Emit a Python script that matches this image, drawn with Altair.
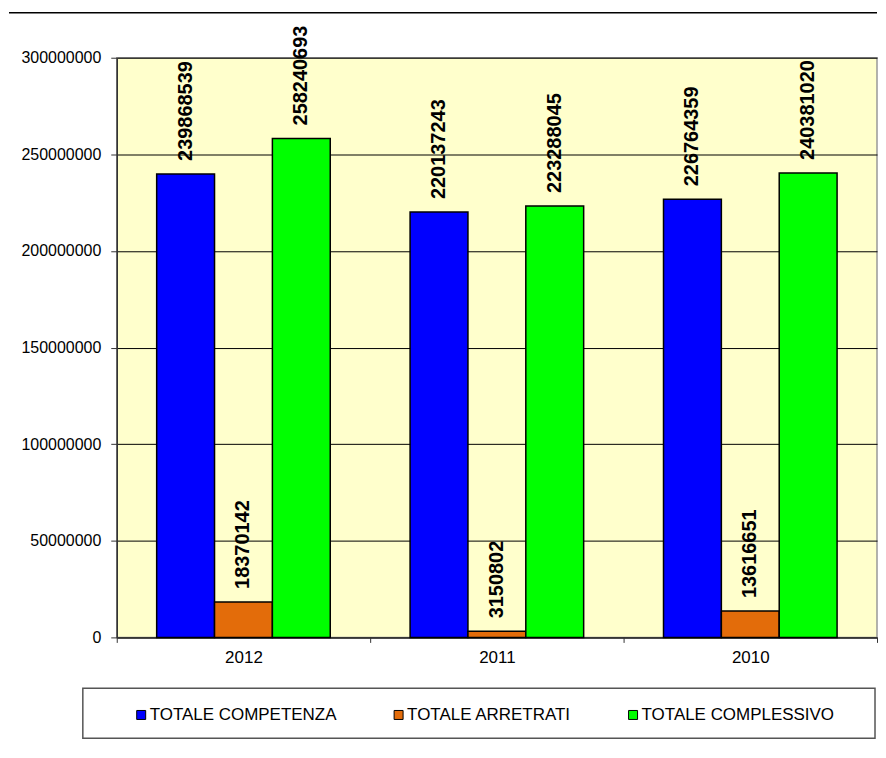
import altair as alt
import pandas as pd

years = ["2012", "2011", "2010"]
series = ["TOTALE COMPETENZA", "TOTALE ARRETRATI", "TOTALE COMPLESSIVO"]
competenza = [239868539, 220137243, 226764359]
arretrati = [18370142, 3150802, 13616651]
complessivo = [258240693, 223288045, 240381020]
colors = ["#0000FF", "#E36C0A", "#00FF00"]
y_ticks = [0, 50000000, 100000000, 150000000, 200000000, 250000000, 300000000]

rows = []
for i, yr in enumerate(years):
    for s, vals in zip(series, [competenza, arretrati, complessivo]):
        rows.append({"year": yr, "series": s, "value": vals[i]})
df = pd.DataFrame(rows)

FONT = "Liberation Sans"
W = 762

x = alt.X("year:N", sort=years,
          scale=alt.Scale(paddingInner=0, paddingOuter=0),
          axis=alt.Axis(title=None, labelAngle=0, tickBand="extent",
                        labelFont=FONT, labelFontSize=17, labelColor="black",
                        tickColor="#333333", tickSize=5, labelPadding=7,
                        domainColor="#333333", domainWidth=1.5))
xo = alt.XOffset("series:N", sort=series,
                 scale=alt.Scale(paddingOuter=0.69, paddingInner=0))
y = alt.Y("value:Q", scale=alt.Scale(domain=[0, 300000000], nice=False),
          axis=alt.Axis(title=None, values=y_ticks, format="d",
                        labelFont=FONT, labelFontSize=16, labelColor="black",
                        grid=True, gridColor="black", gridWidth=1,
                        tickColor="#333333", tickSize=6, labelPadding=10,
                        domainColor="#333333", domainWidth=1.5))

bars = alt.Chart(df).mark_bar(stroke="black", strokeWidth=1.5).encode(
    x=x, xOffset=xo, y=y,
    color=alt.Color("series:N", sort=series,
                    scale=alt.Scale(domain=series, range=colors),
                    legend=alt.Legend(title=None, orient="none", legendX=16, legendY=650,
                                      direction="horizontal", symbolType="square",
                                      symbolSize=81, symbolStrokeColor="black",
                                      symbolStrokeWidth=1, labelFont=FONT,
                                      labelFontSize=17, labelColor="black",
                                      columnPadding=53, labelOffset=0, padding=0,
                                      labelLimit=400))
)

labels = alt.Chart(df).mark_text(angle=270, align="left", baseline="middle",
                                 dx=13, font=FONT, fontSize=20, fontWeight="bold",
                                 color="black").encode(
    x=x, xOffset=xo, y=y, text=alt.Text("value:Q", format="d")
)

one = pd.DataFrame({"k": [0]})
top_rule = alt.Chart(one).mark_rule(color="black", strokeWidth=1.5).encode(
    x=alt.value(-108), x2=alt.value(W), y=alt.value(-45)
)
legend_box = alt.Chart(one).mark_rect(fillOpacity=0, stroke="#555555", strokeWidth=1.5).encode(
    x=alt.value(-34), x2=alt.value(W - 2), y=alt.value(632), y2=alt.value(682)
)

chart = alt.layer(bars, labels, top_rule, legend_box).properties(
    width=W, height=581,
    padding={"left": 0, "top": 3, "right": 0, "bottom": 0}
).configure_view(fill="#FFFFCC", stroke="#999999", strokeWidth=1.5)

chart.save("out.html", embed_options={"renderer": "svg", "actions": False})
